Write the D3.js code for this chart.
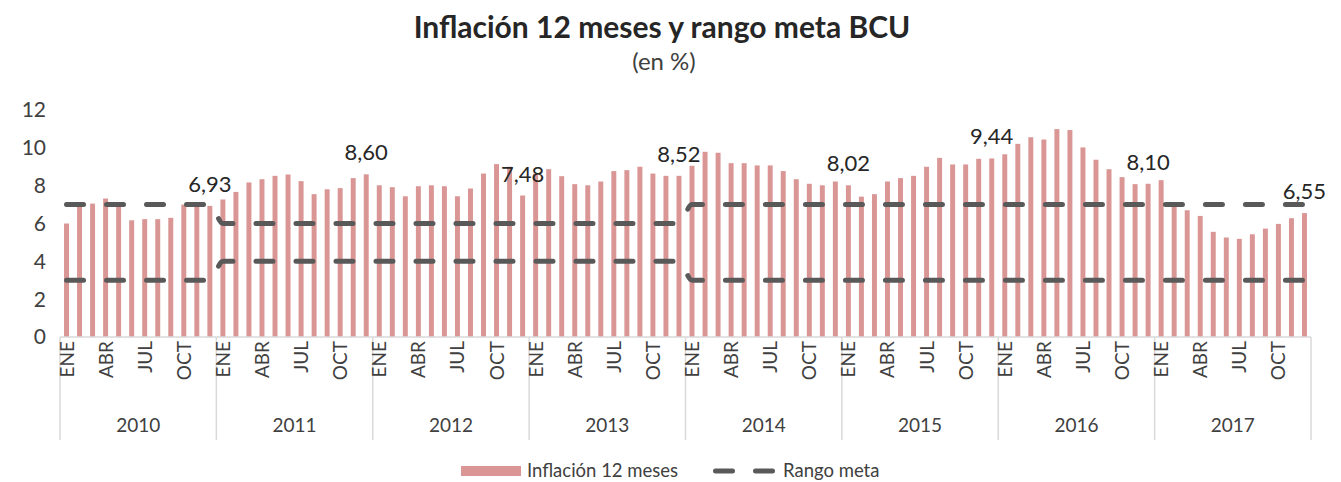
<!DOCTYPE html>
<html>
<head>
<meta charset="utf-8">
<script src="https://cdn.jsdelivr.net/npm/d3@7"></script>
<style>
  body { margin: 0; background: #fff; }
  svg { font-family: Lato, "Open Sans", sans-serif; }
</style>
</head>
<body>
<div id="chart"></div>
<script>
// data
const years = [2010, 2011, 2012, 2013, 2014, 2015, 2016, 2017];
const months = ["ENE", "FEB", "MAR", "ABR", "MAY", "JUN", "JUL", "AGO", "SET", "OCT", "NOV", "DIC"];
const shownMonths = ["ENE", "ABR", "JUL", "OCT"];

const inflation = [
  6.00, 6.90, 7.05, 7.32, 6.90, 6.17, 6.23, 6.23, 6.30, 7.00, 6.90, 6.93,
  7.27, 7.67, 8.17, 8.34, 8.52, 8.59, 8.24, 7.55, 7.81, 7.87, 8.40, 8.60,
  8.02, 7.92, 7.44, 7.97, 8.02, 7.97, 7.44, 7.85, 8.64, 9.14, 9.00, 7.48,
  8.64, 8.87, 8.50, 8.08, 8.02, 8.22, 8.77, 8.82, 9.00, 8.64, 8.52, 8.52,
  9.05, 9.79, 9.74, 9.19, 9.19, 9.07, 9.07, 8.77, 8.34, 8.10, 8.02, 8.22,
  8.02, 7.42, 7.55, 8.22, 8.40, 8.52, 9.00, 9.47, 9.12, 9.12, 9.42, 9.44,
  9.66, 10.21, 10.56, 10.44, 10.99, 10.94, 10.02, 9.37, 8.87, 8.45, 8.08, 8.10,
  8.29, 6.90, 6.70, 6.40, 5.56, 5.26, 5.19, 5.43, 5.73, 5.98, 6.28, 6.55
];

const rangoSup = [
  7, 7, 7, 7, 7, 7, 7, 7, 7, 7, 7, 7,
  6, 6, 6, 6, 6, 6, 6, 6, 6, 6, 6, 6,
  6, 6, 6, 6, 6, 6, 6, 6, 6, 6, 6, 6,
  6, 6, 6, 6, 6, 6, 6, 6, 6, 6, 6, 6,
  7, 7, 7, 7, 7, 7, 7, 7, 7, 7, 7, 7,
  7, 7, 7, 7, 7, 7, 7, 7, 7, 7, 7, 7,
  7, 7, 7, 7, 7, 7, 7, 7, 7, 7, 7, 7,
  7, 7, 7, 7, 7, 7, 7, 7, 7, 7, 7, 7
];
const rangoInf = [
  3, 3, 3, 3, 3, 3, 3, 3, 3, 3, 3, 3,
  4, 4, 4, 4, 4, 4, 4, 4, 4, 4, 4, 4,
  4, 4, 4, 4, 4, 4, 4, 4, 4, 4, 4, 4,
  4, 4, 4, 4, 4, 4, 4, 4, 4, 4, 4, 4,
  3, 3, 3, 3, 3, 3, 3, 3, 3, 3, 3, 3,
  3, 3, 3, 3, 3, 3, 3, 3, 3, 3, 3, 3,
  3, 3, 3, 3, 3, 3, 3, 3, 3, 3, 3, 3,
  3, 3, 3, 3, 3, 3, 3, 3, 3, 3, 3, 3
];

// months that carry a data label
const labelled = [11, 23, 35, 47, 60, 71, 83, 95];
const yTicks = [0, 2, 4, 6, 8, 10, 12];

const width = 1341, height = 482;
const margin = {top: 110, right: 30, bottom: 145, left: 60};
const barColor = "#d99694";
const lineColor = "#595959";
const axisColor = "#d9d9d9";
const textColor = "#404040";

const svg = d3.select("#chart").append("svg")
  .attr("width", width)
  .attr("height", height);

const idx = d3.range(inflation.length);

const x = d3.scaleBand()
  .domain(idx)
  .range([margin.left, width - margin.right])
  .paddingInner(0.62)
  .paddingOuter(0.31);

const yearX = d3.scaleBand()
  .domain(years)
  .range([margin.left, width - margin.right]);

const y = d3.scaleLinear()
  .domain([0, 12])
  .range([height - margin.bottom, margin.top]);

const cx = i => x(i) + x.bandwidth() / 2;

// title
svg.append("text")
  .attr("x", 662).attr("y", 38)
  .attr("text-anchor", "middle")
  .attr("font-size", 30).attr("font-weight", "bold")
  .attr("fill", "#262626")
  .text("Inflación 12 meses y rango meta BCU");

svg.append("text")
  .attr("x", 664).attr("y", 70)
  .attr("text-anchor", "middle")
  .attr("font-size", 24)
  .attr("fill", textColor)
  .text("(en %)");

// y axis labels, no line
svg.append("g").selectAll("text")
  .data(yTicks)
  .join("text")
  .attr("x", 46)
  .attr("y", d => y(d))
  .attr("dy", "0.35em")
  .attr("text-anchor", "end")
  .attr("font-size", 21)
  .attr("fill", textColor)
  .text(d => d);

// bars
svg.append("g").selectAll("rect")
  .data(idx)
  .join("rect")
  .attr("x", i => x(i))
  .attr("width", x.bandwidth())
  .attr("y", i => y(inflation[i]))
  .attr("height", i => y(0) - y(inflation[i]))
  .attr("fill", barColor);

// target range lines
const line = d3.line()
  .x(i => cx(i))
  .curve(d3.curveMonotoneX);

[rangoSup, rangoInf].forEach(serie => {
  svg.append("path")
    .datum(idx)
    .attr("d", line.y(i => y(serie[i])))
    .attr("fill", "none")
    .attr("stroke", lineColor)
    .attr("stroke-width", 5)
    .attr("stroke-linecap", "round")
    .attr("stroke-dasharray", "17 23");
});

// data labels
svg.append("g").selectAll("text")
  .data(labelled)
  .join("text")
  .attr("x", i => cx(i))
  .attr("y", i => y(inflation[i]) - 14)
  .attr("text-anchor", "middle")
  .attr("font-size", 22)
  .attr("fill", "#262626")
  .text(i => d3.format(".2f")(inflation[i]).replace(".", ","));

// category axis
const axisG = svg.append("g");
axisG.append("line")
  .attr("x1", margin.left).attr("x2", width - margin.right)
  .attr("y1", y(0)).attr("y2", y(0))
  .attr("stroke", axisColor).attr("stroke-width", 1.5);

const bounds = years.map(yr => yearX(yr)).concat([yearX(years[years.length - 1]) + yearX.bandwidth()]);
axisG.selectAll("line.div")
  .data(bounds)
  .join("line")
  .attr("class", "div")
  .attr("x1", d => d).attr("x2", d => d)
  .attr("y1", y(0)).attr("y2", 440)
  .attr("stroke", axisColor).attr("stroke-width", 1.5);

// month labels, rotated
axisG.selectAll("text.month")
  .data(idx.filter(i => shownMonths.includes(months[i % 12])))
  .join("text")
  .attr("class", "month")
  .attr("transform", i => `translate(${cx(i) + 7},${y(0) + 4}) rotate(-90)`)
  .attr("text-anchor", "end")
  .attr("font-size", 19)
  .attr("fill", textColor)
  .text(i => months[i % 12]);

// year labels
axisG.selectAll("text.year")
  .data(years)
  .join("text")
  .attr("class", "year")
  .attr("x", d => yearX(d) + yearX.bandwidth() / 2)
  .attr("y", 432)
  .attr("text-anchor", "middle")
  .attr("font-size", 19)
  .attr("fill", textColor)
  .text(d => d);

// legend
const legend = svg.append("g");
legend.append("rect")
  .attr("x", 461).attr("y", 466)
  .attr("width", 60).attr("height", 10)
  .attr("fill", barColor);
legend.append("text")
  .attr("x", 527).attr("y", 477)
  .attr("font-size", 18.5).attr("fill", textColor)
  .text("Inflación 12 meses");
legend.append("line")
  .attr("x1", 715.5).attr("x2", 772.5)
  .attr("y1", 471).attr("y2", 471)
  .attr("stroke", lineColor)
  .attr("stroke-width", 5)
  .attr("stroke-linecap", "round")
  .attr("stroke-dasharray", "17 23");
legend.append("text")
  .attr("x", 783).attr("y", 477)
  .attr("font-size", 18.5).attr("fill", textColor)
  .text("Rango meta");
</script>
</body>
</html>
